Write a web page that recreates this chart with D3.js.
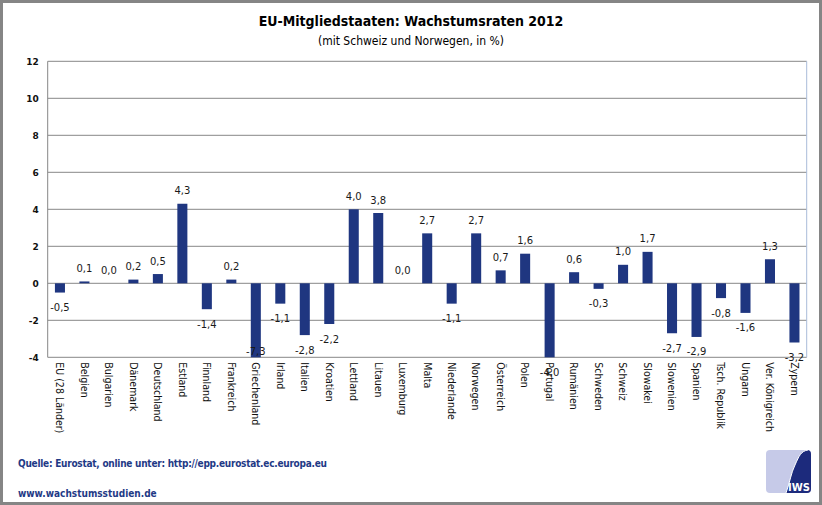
<!DOCTYPE html>
<html>
<head>
<meta charset="utf-8">
<style>
  body { margin: 0; background: #fff; }
  svg { display: block; }
  .title { font-family: 'DejaVu Sans Condensed', 'Liberation Sans Narrow', sans-serif; }
  .tick text { font-family: 'DejaVu Sans', sans-serif; font-weight: bold; font-size: 9px; fill: #111; }
  .cat { font-family: 'DejaVu Sans Condensed', 'Liberation Sans Narrow', sans-serif; font-size: 10.5px; fill: #111; }
  .val { font-family: 'DejaVu Sans', sans-serif; font-size: 10px; fill: #1a1a1a; }
  .foot { font-family: 'DejaVu Sans Condensed', 'Liberation Sans Narrow', sans-serif; font-weight: bold; font-size: 10px; fill: #1f3a86; }
</style>
</head>
<body>
<svg width="822" height="505"></svg>
<script src="https://d3js.org/d3.v7.min.js"></script>
<script>
  // Wachstumsraten 2012 (%)
  const countries = ["EU (28 Länder)", "Belgien", "Bulgarien", "Dänemark", "Deutschland", "Estland",
    "Finnland", "Frankreich", "Griechenland", "Irland", "Italien", "Kroatien", "Lettland", "Litauen",
    "Luxemburg", "Malta", "Niederlande", "Norwegen", "Österreich", "Polen", "Portugal", "Rumänien",
    "Schweden", "Schweiz", "Slowakei", "Slowenien", "Spanien", "Tsch. Republik", "Ungarn",
    "Ver. Königreich", "Zypern"];
  const growth = [-0.5, 0.1, 0.0, 0.2, 0.5, 4.3, -1.4, 0.2, -7.3, -1.1, -2.8, -2.2, 4.0, 3.8,
    0.0, 2.7, -1.1, 2.7, 0.7, 1.6, -4.0, 0.6, -0.3, 1.0, 1.7, -2.7, -2.9, -0.8, -1.6, 1.3, -3.2];
  const yTicks = [-4, -2, 0, 2, 4, 6, 8, 10, 12];

  let width = 822, height = 505;
  let plot = { left: 47.7, right: 806.7, top: 61.3, bottom: 357.3 };

  let svg = d3.select("svg");

  // hyphen instead of unicode minus, comma as decimal mark
  let fmt1 = v => d3.format(".1f")(v).replace("−", "-").replace(".", ",");
  let fmt0 = v => d3.format("d")(v).replace("−", "-");

  // outer frame
  svg.append("rect")
    .attr("x", 1.5).attr("y", 1.5)
    .attr("width", width - 3).attr("height", height - 3)
    .style("fill", "#fff").style("stroke", "#858585").style("stroke-width", 3);

  // titles
  svg.append("text").attr("class", "title")
    .attr("x", 411).attr("y", 26)
    .attr("text-anchor", "middle")
    .style("font-size", "14px").style("font-weight", "bold")
    .text("EU-Mitgliedstaaten: Wachstumsraten 2012");
  svg.append("text").attr("class", "title")
    .attr("x", 411).attr("y", 45)
    .attr("text-anchor", "middle")
    .style("font-size", "12px")
    .text("(mit Schweiz und Norwegen, in %)");

  let x = d3.scaleBand()
    .domain(countries)
    .range([plot.left, plot.right])
    .paddingInner(0.59).paddingOuter(0.295);

  let y = d3.scaleLinear()
    .domain([-4, 12])
    .range([plot.bottom, plot.top]);

  // y labels
  let yAxis = svg.append("g")
    .attr("transform", `translate(${plot.left},0)`)
    .call(d3.axisLeft(y).tickValues(yTicks).tickSize(0).tickPadding(9).tickFormat(fmt0));
  yAxis.select(".domain").remove();

  // gridlines
  svg.append("g")
    .selectAll("line")
    .data(yTicks)
    .join("line")
    .attr("x1", plot.left).attr("x2", plot.right)
    .attr("y1", d => y(d)).attr("y2", d => y(d))
    .style("stroke", "#878787").style("stroke-width", 1);

  // left axis and right plot border
  svg.append("line")
    .attr("x1", plot.left).attr("x2", plot.left)
    .attr("y1", plot.top).attr("y2", plot.bottom)
    .style("stroke", "#878787");
  svg.append("line")
    .attr("x1", plot.right).attr("x2", plot.right)
    .attr("y1", plot.top).attr("y2", plot.bottom)
    .style("stroke", "#a9bcd9");

  let data = countries.map((c, i) => ({ c: c, v: growth[i] }));
  let yMin = y.domain()[0];

  // bars (clipped at the axis minimum)
  svg.append("g")
    .selectAll("rect")
    .data(data)
    .join("rect")
    .attr("x", d => x(d.c))
    .attr("width", x.bandwidth())
    .attr("y", d => y(Math.max(0, d.v)))
    .attr("height", d => Math.abs(y(Math.max(d.v, yMin)) - y(0)))
    .style("fill", "#1f3680");

  // value labels
  svg.append("g")
    .selectAll("text")
    .data(data)
    .join("text")
    .attr("class", "val")
    .attr("x", d => x(d.c) + x.bandwidth() / 2)
    .attr("y", d => {
      if (d.v < yMin) return y(yMin) - 6;
      return d.v >= 0 ? y(d.v) - 13 : y(d.v) + 15;
    })
    .attr("dy", "0.35em")
    .attr("text-anchor", "middle")
    .text(d => fmt1(d.v));

  // category labels, rotated
  svg.append("g")
    .selectAll("text")
    .data(countries)
    .join("text")
    .attr("class", "cat")
    .attr("transform", d => `translate(${x(d) + x.bandwidth() / 2},${plot.bottom + 5}) rotate(90)`)
    .attr("dy", "0.35em")
    .text(d => d);

  // footer
  svg.append("text").attr("class", "foot")
    .attr("x", 18).attr("y", 467)
    .style("letter-spacing", "-0.25px")
    .text("Quelle: Eurostat, online unter: http://epp.eurostat.ec.europa.eu");
  svg.append("text").attr("class", "foot")
    .attr("x", 18).attr("y", 497)
    .text("www.wachstumsstudien.de");

  // IWS logo
  let logo = svg.append("g");
  logo.append("clipPath").attr("id", "logoclip")
    .append("rect").attr("x", 766).attr("y", 450).attr("width", 45).attr("height", 43).attr("rx", 4);
  let lg = logo.append("g").attr("clip-path", "url(#logoclip)");
  lg.append("rect").attr("x", 766).attr("y", 450).attr("width", 45).attr("height", 43).style("fill", "#c6cae8");
  let curve = "M786,493 C790,482 791,473 795,465 C799,456 801,451 808,450";
  lg.append("path")
    .attr("d", curve + " L811,450 L811,493 Z")
    .style("fill", "#1c2a7c");
  lg.append("path")
    .attr("d", curve)
    .style("fill", "none").style("stroke", "#fff").style("stroke-width", 1);
  logo.append("text")
    .attr("x", 810).attr("y", 491)
    .attr("text-anchor", "end")
    .style("font-family", "'DejaVu Sans', sans-serif")
    .style("font-weight", "bold").style("font-size", "10px").style("fill", "#fff")
    .text("IWS");
</script>
</body>
</html>
